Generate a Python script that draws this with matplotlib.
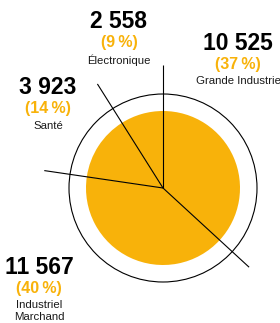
import numpy as np
import matplotlib
matplotlib.use("Agg")
import matplotlib.pyplot as plt
from matplotlib.patches import Circle

# Data
sectors = ["Grande Industrie", "Industriel\nMarchand", "Santé", "Électronique"]
values = [10525, 11567, 3923, 2558]
values_txt = ["10 525", "11 567", "3 923", "2 558"]
percents = [37, 40, 14, 9]

orange = "#F8B20A"
fam = ["Liberation Sans", "DejaVu Sans"]

W, H = 280, 323
fig = plt.figure(figsize=(W / 100, H / 100), dpi=100)
ax = fig.add_axes([0, 0, 1, 1])

cx, cy = 163, H - 188
r_in, r_out = 77, 94

# filled disc (pie with one colour)
ax.pie(values, colors=[orange] * len(values), radius=r_in, center=(cx, cy),
       startangle=90, counterclock=False, frame=True,
       wedgeprops=dict(linewidth=0))
ax.set_xlim(0, W)
ax.set_ylim(0, H)
ax.set_aspect("equal")
ax.axis("off")

# outer ring
ax.add_patch(Circle((cx, cy), r_out, fill=False, ec="black", lw=0.8))

# separator lines from center
frac = np.cumsum(values) / np.sum(values)
lengths = [117, 120, 123, 123]
for f, L in zip(frac, lengths):
    ang = np.deg2rad(90 - 360 * f)
    ax.plot([cx, cx + L * np.cos(ang)], [cy, cy + L * np.sin(ang)],
            color="black", lw=0.8, solid_capstyle="butt")

# label anchors (x, y of number line, top-down pixels)
anchors = [(238, 43), (39, 267), (48, 88), (119, 22)]
for (x, y), num, pct, lab in zip(anchors, values_txt, percents, sectors):
    ax.text(x, H - y, num, ha="center", va="center", fontsize=16.5,
            fontweight="bold", family=fam, color="black")
    ax.text(x, H - y - 21, f"({pct}\u2009%)", ha="center", va="center",
            fontsize=11.5, fontweight="bold", family=fam, color=orange)
    ax.text(x, H - y - 33, lab, ha="center", va="top", fontsize=8.2,
            family=fam, color="#1a1a1a", linespacing=1.2)

fig.savefig("out.png", dpi=100)
